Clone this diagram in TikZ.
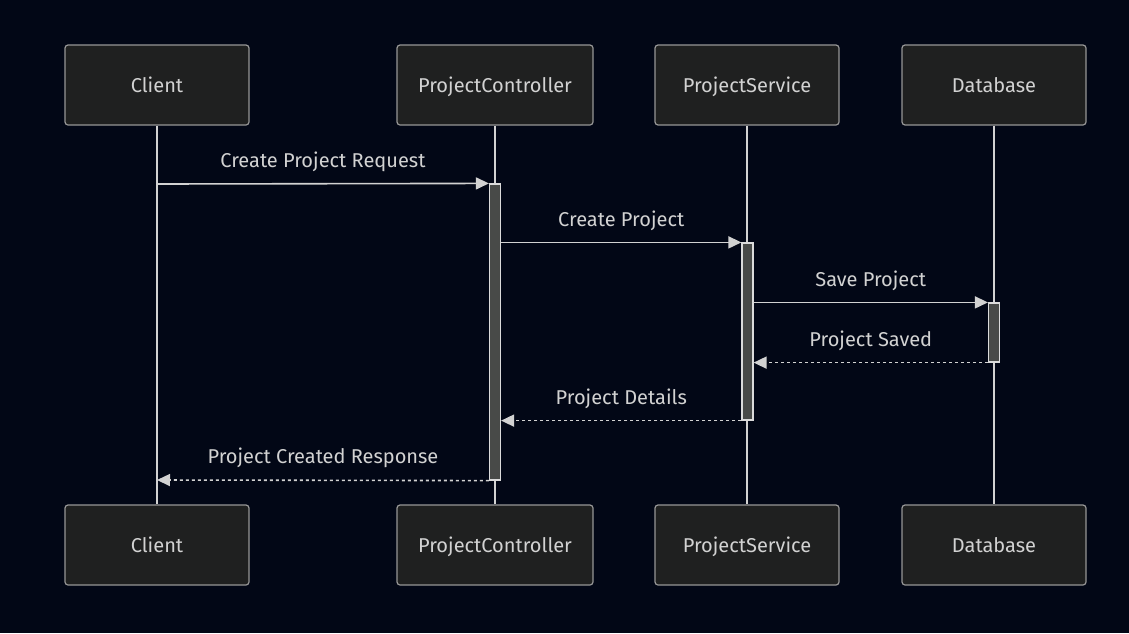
\documentclass[tikz,border=0pt]{standalone}
\usepackage{fontspec}
\setmainfont{Fira Sans}
\usetikzlibrary{arrows.meta, positioning}
\definecolor{Night}{RGB}{2, 7, 22}
\definecolor{BoxFill}{RGB}{31, 32, 32}
\definecolor{Edge}{RGB}{150, 150, 150}
\definecolor{Ink}{RGB}{210, 210, 210}
\definecolor{BarFill}{RGB}{72, 74, 72}

\begin{document}
\begin{tikzpicture}[
    x=1pt, y=-1pt,
    actor/.style={draw=Edge, fill=BoxFill, rounded corners=3pt, minimum height=80pt,
                  minimum width=184pt, font=\fontsize{20}{24}\selectfont, text=Ink,
                  text height=16pt, text depth=2pt, line width=1.2pt},
    life/.style={draw=Ink, line width=1.6pt},
    actbar/.style={draw=Ink!80, fill=BarFill, minimum width=11pt, inner sep=0pt,
                   line width=1.2pt},
    msg/.style={-{Triangle[length=13pt, width=12pt]}, Ink, line width=1.6pt},
    reply/.style={msg, dash pattern=on 3pt off 3pt},
    lbl/.style={font=\fontsize{20}{24}\selectfont, text=Ink, above=8pt}
    ]
    \fill[Night] (0,0) rectangle (1129,633);
    \useasboundingbox (0,0) rectangle (1129,633);

    % participants, top and bottom
    \foreach \nm/\x/\w/\txt in {cl/157/184/Client, pc/495/196/ProjectController,
                                ps/747/184/ProjectService, db/994/184/Database} {
      \node[actor, minimum width=\w pt] (\nm-top) at (\x,85)  {\txt};
      \node[actor, minimum width=\w pt] (\nm-bot) at (\x,545) {\txt};
    }

    % lifelines
    \foreach \nm in {cl, pc, ps, db}
      \draw[life] (\nm-top) -- (\nm-bot);

    % activations
    \node[actbar, minimum height=296pt] (pcbar) at (495,332) {};
    \node[actbar, minimum height=177pt] (psbar) at (747.5,331.5) {};
    \node[actbar, minimum height=59pt]  (dbbar) at (994,332.5) {};

    \coordinate (m1) at (157,184);
    \coordinate (m6) at (157,480);

    % messages
    \draw[msg] (m1) -- (pcbar.north west)
      node[lbl, midway] {Create Project Request};
    \draw[msg] (pcbar.east |- psbar.north) -- (psbar.north west)
      node[lbl, midway] {Create Project};
    \draw[msg] (psbar.east |- dbbar.north) -- (dbbar.north west)
      node[lbl, midway] {Save Project};
    \draw[reply] (dbbar.south west) -- (psbar.east |- dbbar.south)
      node[lbl, midway] {Project Saved};
    \draw[reply] (psbar.south west) -- (pcbar.east |- psbar.south)
      node[lbl, midway] {Project Details};
    \draw[reply] (pcbar.south west) -- (m6)
      node[lbl, midway] {Project Created Response};
\end{tikzpicture}
\end{document}
